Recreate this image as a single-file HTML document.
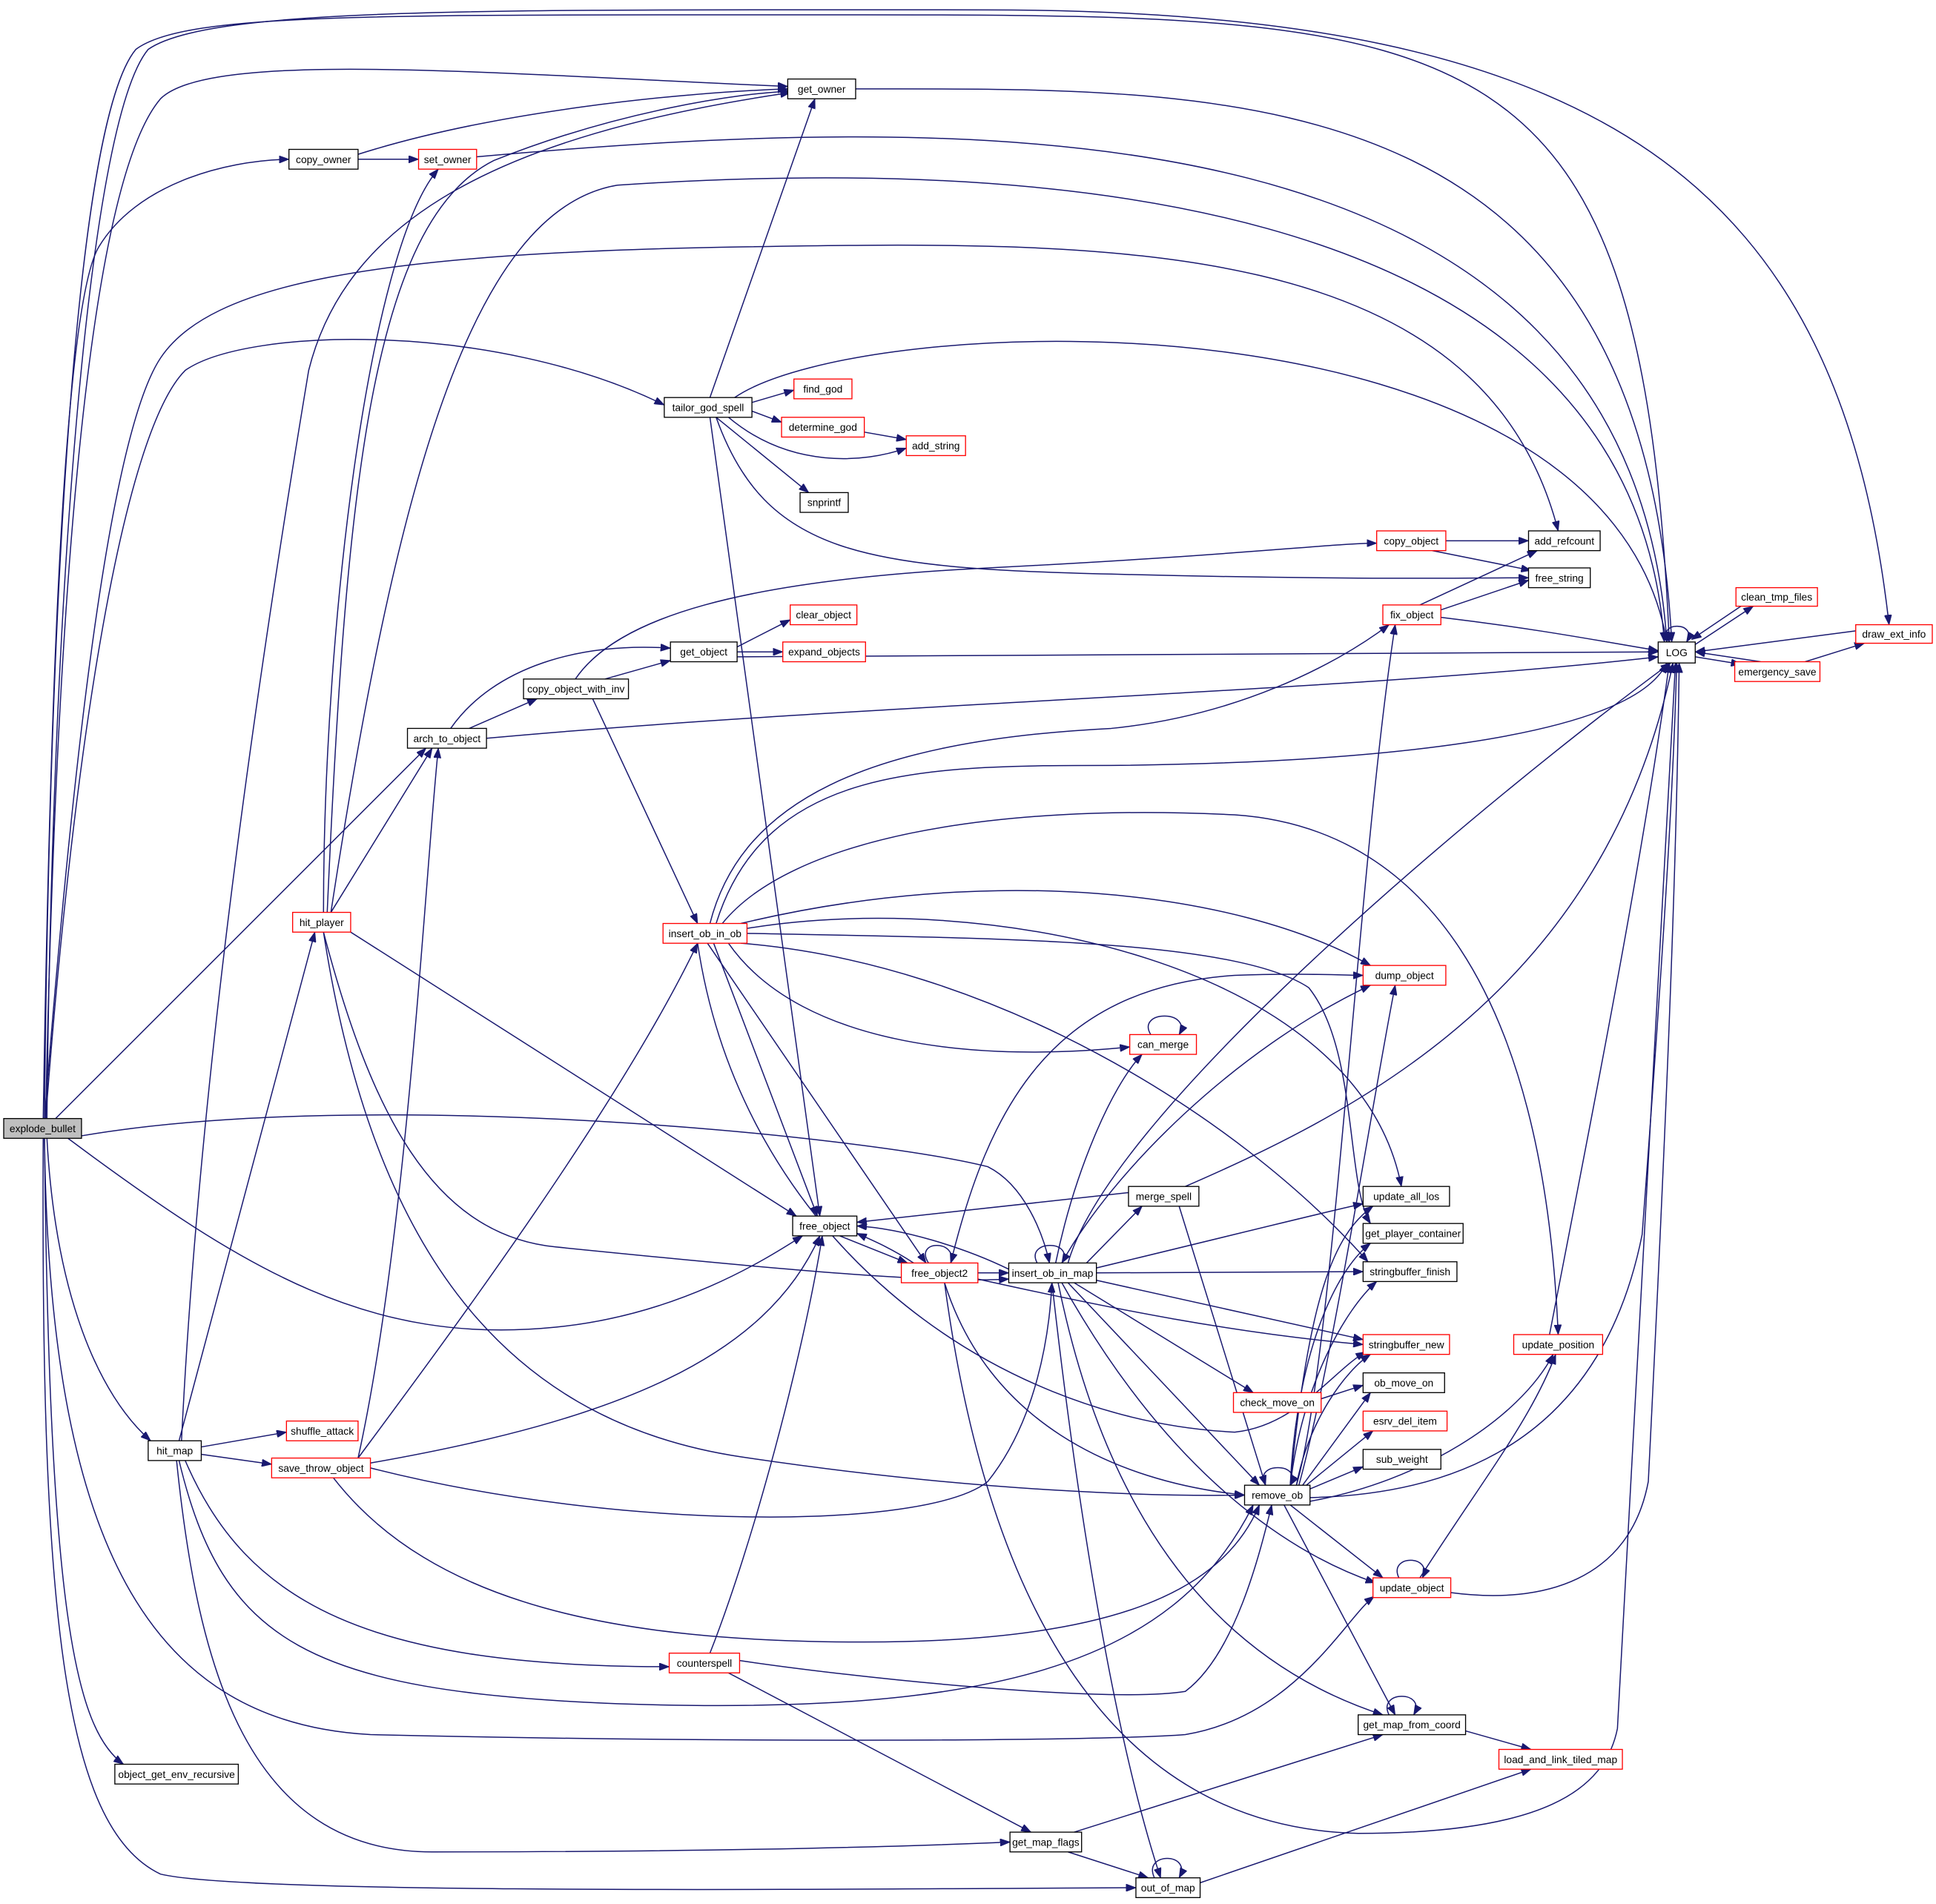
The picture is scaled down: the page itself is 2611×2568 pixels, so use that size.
<!DOCTYPE html>
<html><head><meta charset="utf-8"><style>
html,body{margin:0;padding:0;background:#fff}
svg{display:block}
text{font-family:"Liberation Sans",sans-serif;font-size:8.3px;text-anchor:middle}
path{fill:none;stroke:#191970;stroke-width:0.9}
rect{fill:#fff;stroke:#000;stroke-width:0.8}
rect.r{stroke:#f00}
</style></head><body>
<svg width="2611" height="2568" viewBox="0 0 1568 1542.2" xmlns="http://www.w3.org/2000/svg">
<defs><marker id="a" markerWidth="8" markerHeight="6" refX="8" refY="3" orient="auto" markerUnits="userSpaceOnUse"><path d="M0,0 L8,3 L0,6 z" style="fill:#191970;stroke:#191970;stroke-width:0.5"/></marker></defs>
<g marker-end="url(#a)">
<path d="M36,906 C40,500 60,100 110,40 C150,10 300,12 700,12 C1200,12 1330,20 1352,520"/>
<path d="M38,906 C42,500 70,100 120,40 C170,5 400,8 800,8 C1300,8 1490,150 1530,506"/>
<path d="M37,906 C45,500 70,150 130,80 C170,40 400,60 638,70"/>
<path d="M35,906 C40,600 50,250 80,200 C110,150 180,130 234,129"/>
<path d="M36,906 C60,600 90,350 130,290 C170,230 300,205 600,200 C900,195 1200,190 1262,430"/>
<path d="M37,906 C60,600 100,350 150,300 C200,265 400,260 538,328"/>
<path d="M45,906 L345,606"/>
<path d="M66,920 C300,880 700,920 800,945 C830,960 845,1000 850,1023"/>
<path d="M55,922 C200,1030 300,1090 450,1075 C550,1065 620,1020 650,1001"/>
<path d="M38,922 C45,1050 80,1130 122,1167"/>
<path d="M36,922 C40,1250 120,1395 300,1405 C600,1412 900,1410 960,1405 C1050,1390 1090,1310 1113,1293"/>
<path d="M36,922 C40,1300 60,1400 100,1429"/>
<path d="M35,922 C33,1300 50,1480 130,1518 C200,1535 700,1530 920,1529"/>
<path d="M290,125 C400,90 550,75 638,72"/>
<path d="M290,129 L339,129"/>
<path d="M386,127 C800,90 1320,80 1350,520"/>
<path d="M693,72 C1000,72 1330,60 1354,520"/>
<path d="M262,739 C262,500 300,200 355,137"/>
<path d="M265,739 C280,400 300,180 400,130 C500,90 600,75 640,74"/>
<path d="M268,739 C320,400 380,170 500,150 C800,130 1320,140 1348,520"/>
<path d="M268,739 L350,606"/>
<path d="M284,755 L645,985"/>
<path d="M262,755 C300,1000 400,1150 600,1180 C800,1210 950,1212 1008,1211"/>
<path d="M262,755 C300,900 350,1000 450,1010 C600,1025 750,1040 817,1036"/>
<path d="M575,322 L660,80"/>
<path d="M595,322 C700,250 1300,230 1350,520"/>
<path d="M609,326 L643,316"/>
<path d="M609,333 L633,342"/>
<path d="M590,338 C640,380 700,375 734,363"/>
<path d="M580,338 L655,399"/>
<path d="M580,338 C620,450 700,460 900,465 C1100,470 1200,468 1238,468"/>
<path d="M575,338 L664,985"/>
<path d="M700,350 L734,356"/>
<path d="M1171,438 L1238,438"/>
<path d="M1160,446 L1240,462"/>
<path d="M1150,490 L1245,446"/>
<path d="M1167,494 L1238,470"/>
<path d="M1167,500 C1250,510 1300,520 1343,527"/>
<path d="M1352,520 C1340,503 1376,503 1366,520"/>
<path d="M1373,522 L1420,491"/>
<path d="M1410,491 L1370,518"/>
<path d="M1373,532 L1410,538"/>
<path d="M1426,536 L1373,528"/>
<path d="M1462,536 L1510,521"/>
<path d="M1503,511 L1373,528"/>
<path d="M597,524 L640,502"/>
<path d="M597,528 L634,528"/>
<path d="M597,532 C700,530 1000,528 1343,528"/>
<path d="M490,550 L543,535"/>
<path d="M466,550 C500,500 600,470 800,460 C1000,450 1080,440 1115,440"/>
<path d="M480,566 L565,748"/>
<path d="M365,590 C400,540 470,520 543,525"/>
<path d="M380,590 L435,566"/>
<path d="M394,598 C700,570 1100,560 1343,532"/>
<path d="M575,748 C600,650 700,600 900,590 C1000,580 1080,540 1125,506"/>
<path d="M580,748 C620,620 750,620 900,620 C1100,618 1320,600 1350,537"/>
<path d="M585,748 C640,680 800,650 1000,660 C1150,670 1250,800 1262,1081"/>
<path d="M600,748 C800,700 1000,720 1110,782"/>
<path d="M605,752 C800,720 1100,780 1135,961"/>
<path d="M605,756 C800,760 1000,760 1060,800 C1100,850 1090,960 1110,991"/>
<path d="M600,764 C800,780 1000,900 1108,1022"/>
<path d="M590,764 C650,850 800,860 915,848"/>
<path d="M578,764 L662,985"/>
<path d="M573,764 L750,1023"/>
<path d="M565,764 C600,1000 800,1150 1000,1160 C1050,1155 1080,1110 1106,1095"/>
<path d="M932,838 C920,818 966,818 955,838"/>
<path d="M914,966 L694,990"/>
<path d="M960,961 C1100,900 1300,800 1355,537"/>
<path d="M955,977 L1025,1203"/>
<path d="M680,1001 L735,1023"/>
<path d="M740,1023 C720,1010 705,1004 694,999"/>
<path d="M752,1023 C740,1004 776,1004 770,1023"/>
<path d="M770,1023 C800,900 850,800 1000,790 C1050,788 1090,790 1104,790"/>
<path d="M792,1031 L817,1031"/>
<path d="M792,1036 C900,1060 1000,1080 1104,1089"/>
<path d="M765,1039 C800,1150 900,1200 1008,1211"/>
<path d="M765,1039 C800,1300 900,1480 1100,1485 C1250,1485 1300,1450 1310,1400 C1330,1000 1350,700 1357,537"/>
<path d="M817,1028 C780,1010 730,995 694,993"/>
<path d="M840,1023 C830,1004 871,1004 860,1023"/>
<path d="M855,1023 C870,950 900,880 925,854"/>
<path d="M860,1023 C900,950 1000,850 1110,798"/>
<path d="M865,1023 C900,900 1200,650 1353,537"/>
<path d="M880,1023 L925,977"/>
<path d="M888,1027 C1000,1000 1080,980 1104,975"/>
<path d="M888,1031 L1104,1030"/>
<path d="M888,1037 L1104,1085"/>
<path d="M870,1039 L1015,1128"/>
<path d="M865,1039 L1020,1203"/>
<path d="M860,1039 C950,1200 1050,1260 1114,1282"/>
<path d="M857,1039 C900,1250 1000,1350 1120,1389"/>
<path d="M852,1039 C870,1200 900,1400 940,1521"/>
<path d="M1070,1133 L1104,1122"/>
<path d="M1050,1203 C1080,1100 1100,700 1130,506"/>
<path d="M1052,1203 C1080,1100 1110,900 1130,798"/>
<path d="M1045,1203 C1060,1050 1080,1000 1112,977"/>
<path d="M1045,1203 C1050,1100 1080,1030 1110,1007"/>
<path d="M1045,1203 C1055,1120 1090,1060 1115,1038"/>
<path d="M1050,1203 C1060,1150 1090,1110 1110,1097"/>
<path d="M1055,1203 L1110,1128"/>
<path d="M1058,1203 L1112,1159"/>
<path d="M1061,1206 L1104,1188"/>
<path d="M1025,1203 C1014,1184 1056,1184 1045,1203"/>
<path d="M1061,1213 C1200,1210 1300,1150 1330,1000 C1345,800 1355,650 1358,537"/>
<path d="M1061,1216 C1150,1200 1230,1150 1258,1097"/>
<path d="M1045,1219 L1120,1278"/>
<path d="M1040,1219 L1130,1389"/>
<path d="M1133,1278 C1124,1259 1161,1259 1152,1278"/>
<path d="M1150,1278 C1200,1200 1240,1150 1260,1097"/>
<path d="M1175,1290 C1250,1300 1320,1280 1335,1200 C1350,900 1358,700 1360,537"/>
<path d="M1255,1081 C1290,900 1330,700 1352,537"/>
<path d="M145,1167 L255,755"/>
<path d="M147,1167 C160,900 200,600 250,300 C280,180 400,110 640,75"/>
<path d="M163,1172 L232,1160"/>
<path d="M163,1178 L220,1186"/>
<path d="M150,1183 C200,1300 300,1350 542,1350"/>
<path d="M145,1183 C180,1330 250,1370 500,1380 C800,1390 950,1350 1015,1219"/>
<path d="M143,1183 C160,1350 200,1500 350,1500 C600,1500 750,1495 818,1492"/>
<path d="M290,1181 C330,1000 345,700 355,606"/>
<path d="M290,1181 C350,1100 500,900 565,764"/>
<path d="M300,1189 C500,1240 750,1240 800,1200 C840,1150 850,1080 852,1039"/>
<path d="M300,1185 C500,1150 620,1100 664,1001"/>
<path d="M270,1197 C350,1300 500,1330 700,1330 C900,1330 990,1290 1020,1219"/>
<path d="M575,1339 C610,1250 650,1100 666,1001"/>
<path d="M599,1345 C700,1360 900,1380 960,1370 C1000,1340 1020,1260 1030,1219"/>
<path d="M590,1355 L835,1484"/>
<path d="M1125,1389 C1115,1369 1156,1369 1145,1389"/>
<path d="M1187,1402 L1240,1417"/>
<path d="M870,1484 L1120,1405"/>
<path d="M865,1500 L930,1521"/>
<path d="M935,1521 C925,1500 966,1500 955,1521"/>
<path d="M972,1525 L1240,1433"/>
</g>
<g>
<rect x="3" y="906" width="63" height="16" style="fill:#bfbfbf"/><text x="34.5" y="917">explode_bullet</text>
<rect x="234" y="121" width="56" height="16"/><text x="262" y="132">copy_owner</text>
<rect x="638" y="64" width="55" height="16"/><text x="665.5" y="75">get_owner</text>
<rect class="r" x="339" y="121" width="47" height="16"/><text x="362.5" y="132">set_owner</text>
<rect x="1343" y="520" width="30" height="17"/><text x="1358" y="531.5">LOG</text>
<rect x="538" y="322" width="71" height="16"/><text x="573.5" y="333">tailor_god_spell</text>
<rect class="r" x="643" y="307" width="47" height="16"/><text x="666.5" y="318">find_god</text>
<rect class="r" x="633" y="338" width="67" height="16"/><text x="666.5" y="349">determine_god</text>
<rect class="r" x="734" y="353" width="48" height="16"/><text x="758" y="364">add_string</text>
<rect x="648" y="399" width="39" height="16"/><text x="667.5" y="410">snprintf</text>
<rect x="1238" y="430" width="58" height="16"/><text x="1267" y="441">add_refcount</text>
<rect class="r" x="1115" y="430" width="56" height="16"/><text x="1143" y="441">copy_object</text>
<rect x="1238" y="460" width="50" height="16"/><text x="1263" y="471">free_string</text>
<rect class="r" x="1120" y="490" width="47" height="16"/><text x="1143.5" y="501">fix_object</text>
<rect class="r" x="1406" y="476" width="66" height="15"/><text x="1439" y="486.5">clean_tmp_files</text>
<rect class="r" x="1503" y="506" width="62" height="15"/><text x="1534" y="516.5">draw_ext_info</text>
<rect class="r" x="1405" y="536" width="69" height="16"/><text x="1439.5" y="547">emergency_save</text>
<rect class="r" x="640" y="490" width="54" height="16"/><text x="667" y="501">clear_object</text>
<rect class="r" x="634" y="520" width="67" height="16"/><text x="667.5" y="531">expand_objects</text>
<rect x="543" y="520" width="54" height="16"/><text x="570" y="531">get_object</text>
<rect x="424" y="550" width="85" height="16"/><text x="466.5" y="561">copy_object_with_inv</text>
<rect x="330" y="590" width="64" height="16"/><text x="362" y="601">arch_to_object</text>
<rect class="r" x="237" y="739" width="47" height="16"/><text x="260.5" y="750">hit_player</text>
<rect class="r" x="537" y="748" width="68" height="16"/><text x="571" y="759">insert_ob_in_ob</text>
<rect class="r" x="1104" y="782" width="67" height="16"/><text x="1137.5" y="793">dump_object</text>
<rect class="r" x="915" y="838" width="54" height="16"/><text x="942" y="849">can_merge</text>
<rect x="914" y="961" width="57" height="16"/><text x="942.5" y="972">merge_spell</text>
<rect x="1104" y="961" width="70" height="16"/><text x="1139" y="972">update_all_los</text>
<rect x="642" y="985" width="52" height="16"/><text x="668" y="996">free_object</text>
<rect x="1104" y="991" width="81" height="16"/><text x="1144.5" y="1002">get_player_container</text>
<rect class="r" x="730" y="1023" width="62" height="16"/><text x="761" y="1034">free_object2</text>
<rect x="817" y="1023" width="71" height="16"/><text x="852.5" y="1034">insert_ob_in_map</text>
<rect x="1104" y="1022" width="76" height="16"/><text x="1142" y="1033">stringbuffer_finish</text>
<rect class="r" x="1104" y="1081" width="70" height="16"/><text x="1139" y="1092">stringbuffer_new</text>
<rect class="r" x="1226" y="1081" width="72" height="16"/><text x="1262" y="1092">update_position</text>
<rect class="r" x="999" y="1128" width="71" height="16"/><text x="1034.5" y="1139">check_move_on</text>
<rect x="1104" y="1112" width="66" height="16"/><text x="1137" y="1123">ob_move_on</text>
<rect class="r" x="1104" y="1143" width="68" height="16"/><text x="1138" y="1154">esrv_del_item</text>
<rect x="1104" y="1174" width="63" height="16"/><text x="1135.5" y="1185">sub_weight</text>
<rect x="1008" y="1203" width="53" height="16"/><text x="1034.5" y="1214">remove_ob</text>
<rect class="r" x="1112" y="1278" width="63" height="16"/><text x="1143.5" y="1289">update_object</text>
<rect x="120" y="1167" width="43" height="16"/><text x="141.5" y="1178">hit_map</text>
<rect class="r" x="232" y="1151" width="58" height="16"/><text x="261" y="1162">shuffle_attack</text>
<rect class="r" x="220" y="1181" width="80" height="16"/><text x="260" y="1192">save_throw_object</text>
<rect class="r" x="542" y="1339" width="57" height="16"/><text x="570.5" y="1350">counterspell</text>
<rect x="1100" y="1389" width="87" height="16"/><text x="1143.5" y="1400">get_map_from_coord</text>
<rect class="r" x="1214" y="1417" width="100" height="16"/><text x="1264" y="1428">load_and_link_tiled_map</text>
<rect x="93" y="1429" width="100" height="16"/><text x="143" y="1440">object_get_env_recursive</text>
<rect x="818" y="1484" width="58" height="16"/><text x="847" y="1495">get_map_flags</text>
<rect x="920" y="1521" width="52" height="16"/><text x="946" y="1532">out_of_map</text>
</g>
</svg>
</body></html>
